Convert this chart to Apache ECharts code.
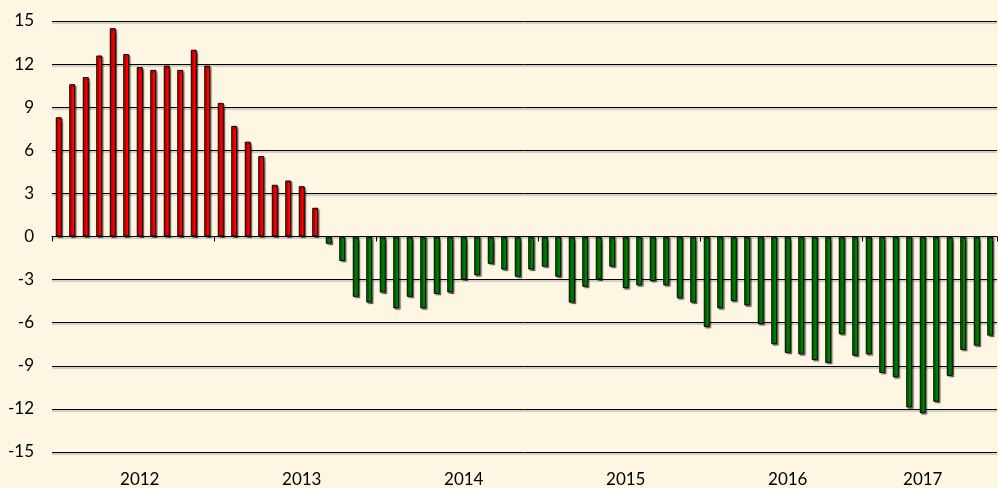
<!DOCTYPE html>
<html>
<head>
<meta charset="utf-8">
<script src="https://cdn.jsdelivr.net/npm/echarts@6/dist/echarts.min.js"></script>
<style>
  html, body { margin: 0; padding: 0; background: #FDF6E3; }
  #chart { width: 998px; height: 488px; }
</style>
</head>
<body>
<div id="chart"></div>
<script>
// Monthly categories, Jan 2012 .. Oct 2017
const months = [
  '2012-01','2012-02','2012-03','2012-04','2012-05','2012-06','2012-07','2012-08','2012-09','2012-10','2012-11','2012-12',
  '2013-01','2013-02','2013-03','2013-04','2013-05','2013-06','2013-07','2013-08','2013-09','2013-10','2013-11','2013-12',
  '2014-01','2014-02','2014-03','2014-04','2014-05','2014-06','2014-07','2014-08','2014-09','2014-10','2014-11','2014-12',
  '2015-01','2015-02','2015-03','2015-04','2015-05','2015-06','2015-07','2015-08','2015-09','2015-10','2015-11','2015-12',
  '2016-01','2016-02','2016-03','2016-04','2016-05','2016-06','2016-07','2016-08','2016-09','2016-10','2016-11','2016-12',
  '2017-01','2017-02','2017-03','2017-04','2017-05','2017-06','2017-07','2017-08','2017-09','2017-10'
];

// Monthly values (percent)
const values = [
  8.3, 10.6, 11.1, 12.6, 14.5, 12.7, 11.8, 11.6, 11.9, 11.6, 13.0, 11.9,
  9.3, 7.7, 6.6, 5.6, 3.6, 3.9, 3.5, 2.0, -0.5, -1.7, -4.2, -4.6,
  -3.9, -5.0, -4.2, -5.0, -4.0, -3.9, -3.0, -2.7, -1.9, -2.3, -2.8, -2.3,
  -2.1, -2.8, -4.6, -3.5, -3.0, -2.1, -3.6, -3.4, -3.1, -3.4, -4.3, -4.6,
  -6.3, -5.0, -4.5, -4.8, -6.1, -7.5, -8.1, -8.2, -8.6, -8.8, -6.8, -8.3,
  -8.2, -9.5, -9.8, -11.9, -12.3, -11.5, -9.7, -7.9, -7.6, -6.9
];

// Year labels and the month they sit under
const yearLabels = ['2012', '2013', '2014', '2015', '2016', '2017'];
const yearLabelMonths = ['2012-07', '2013-07', '2014-07', '2015-07', '2016-07', '2017-05'];

// Y axis ticks
const yMin = -15, yMax = 15, yStep = 3;

const chart = echarts.init(document.getElementById('chart'), null, { renderer: 'canvas' });

const font = 'Lato, "Open Sans", sans-serif';

chart.setOption({
  backgroundColor: '#FDF6E3',
  animation: false,
  grid: { left: 52, right: 1, top: 21, bottom: 35 },
  xAxis: [
    {
      type: 'category',
      data: months,
      position: 'bottom',
      axisLine: { show: false, onZero: false },
      axisTick: { show: false },
      axisLabel: {
        interval: (i, v) => yearLabelMonths.indexOf(v) >= 0,
        formatter: v => yearLabels[yearLabelMonths.indexOf(v)],
        color: '#000',
        fontFamily: font,
        fontSize: 17,
        margin: 19
      },
      splitLine: { show: false }
    },
    {
      type: 'category',
      data: months,
      position: 'bottom',
      axisLine: { show: true, onZero: true, lineStyle: { color: '#000', width: 1 } },
      axisTick: {
        show: true,
        length: 5,
        interval: i => i % 12 === 0,
        lineStyle: { color: '#000', width: 1 }
      },
      axisLabel: { show: false },
      splitLine: { show: false }
    }
  ],
  yAxis: {
    type: 'value',
    min: yMin,
    max: yMax,
    interval: yStep,
    axisLine: { show: false },
    axisTick: { show: false },
    axisLabel: {
      color: '#000',
      fontFamily: font,
      fontSize: 17,
      margin: 18
    },
    splitLine: {
      show: true,
      lineStyle: {
        color: '#000',
        width: 1,
        shadowColor: 'rgba(0,0,0,0.35)',
        shadowOffsetY: 1.5,
        shadowBlur: 1
      }
    }
  },
  series: [{
    type: 'bar',
    xAxisIndex: 0,
    data: values,
    barWidth: 6,
    itemStyle: {
      color: p => (p.value >= 0 ? '#FF0000' : '#008000'),
      borderColor: '#000',
      borderWidth: 1,
      shadowColor: 'rgba(0,0,0,0.45)',
      shadowOffsetX: 1.5,
      shadowOffsetY: 1.5,
      shadowBlur: 1
    }
  }]
});
</script>
</body>
</html>
